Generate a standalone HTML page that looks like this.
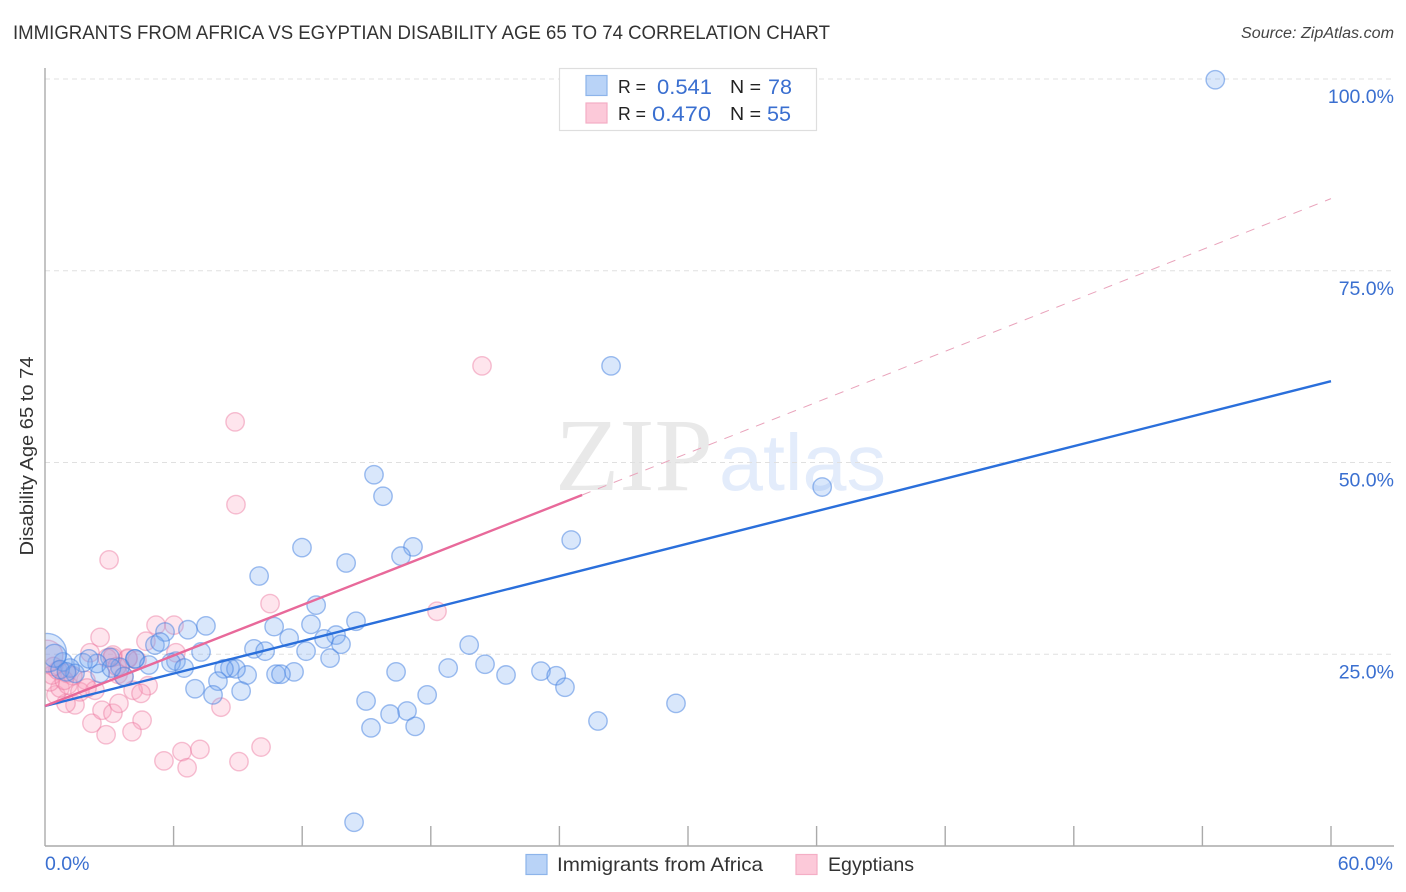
<!DOCTYPE html>
<html lang="en">
<head>
<meta charset="utf-8">
<title>Immigrants from Africa vs Egyptian Disability Age 65 to 74 Correlation Chart</title>
<style>
  html, body { margin: 0; padding: 0; background: #fff; }
  svg { display: block; font-family: "Liberation Sans", sans-serif; }
</style>
</head>
<body>
<svg id="chart" xmlns="http://www.w3.org/2000/svg" width="1406" height="892" viewBox="0 0 1406 892">
  <text x="13" y="39" font-size="19" fill="#333333" textLength="817" lengthAdjust="spacingAndGlyphs">IMMIGRANTS FROM AFRICA VS EGYPTIAN DISABILITY AGE 65 TO 74 CORRELATION CHART</text>
  <text x="1394" y="38" font-size="15.5" font-style="italic" fill="#444" text-anchor="end" textLength="153" lengthAdjust="spacingAndGlyphs">Source: ZipAtlas.com</text>

  <g>
    <text x="555" y="490" font-family="'Liberation Serif', serif" font-size="104" fill="#e9e9e9" textLength="158" lengthAdjust="spacingAndGlyphs">ZIP</text>
    <text x="719" y="490" font-size="80" fill="#e3ecfb" textLength="167" lengthAdjust="spacingAndGlyphs">atlas</text>
  </g>

  <g id="grid"></g>
  <g id="pink-points"></g>
  <g id="blue-points"></g>
  <rect x="0" y="610" width="45.5" height="90" fill="#ffffff"></rect>
  <g id="axes"></g>
  <g id="trend-lines"></g>
  <g id="tick-labels"></g>

  <text transform="translate(33 456) rotate(-90)" font-size="18" fill="#333" text-anchor="middle" textLength="199" lengthAdjust="spacingAndGlyphs">Disability Age 65 to 74</text>

  <g>
    <rect x="559.5" y="68.5" width="257" height="62" fill="#fff" stroke="#dedede" stroke-width="1.2"></rect>
    <rect x="586" y="75.5" width="21" height="20" fill="#b9d3f7" stroke="#8db4ea" stroke-width="1.2"></rect>
    <rect x="586" y="103" width="21" height="20" fill="#fcc9d9" stroke="#f4aec5" stroke-width="1.2"></rect>
    <text x="618" y="93" font-size="18" fill="#222" textLength="28" lengthAdjust="spacingAndGlyphs">R =</text>
    <text x="657" y="94" font-size="21" fill="#3a6fd0" textLength="55" lengthAdjust="spacingAndGlyphs">0.541</text>
    <text x="730" y="93" font-size="18" fill="#222" textLength="31" lengthAdjust="spacingAndGlyphs">N =</text>
    <text x="768" y="94" font-size="21" fill="#3a6fd0" textLength="24" lengthAdjust="spacingAndGlyphs">78</text>
    <text x="618" y="120" font-size="18" fill="#222" textLength="28" lengthAdjust="spacingAndGlyphs">R =</text>
    <text x="652" y="121" font-size="21" fill="#3a6fd0" textLength="59" lengthAdjust="spacingAndGlyphs">0.470</text>
    <text x="730" y="120" font-size="18" fill="#222" textLength="31" lengthAdjust="spacingAndGlyphs">N =</text>
    <text x="767" y="121" font-size="21" fill="#3a6fd0" textLength="24" lengthAdjust="spacingAndGlyphs">55</text>
  </g>

  <g>
    <rect x="526" y="854.5" width="21" height="20" fill="#b9d3f7" stroke="#8db4ea" stroke-width="1.2"></rect>
    <text x="557" y="871" font-size="19.5" fill="#333" textLength="206" lengthAdjust="spacingAndGlyphs">Immigrants from Africa</text>
    <rect x="796" y="854.5" width="21" height="20" fill="#fcc9d9" stroke="#f4aec5" stroke-width="1.2"></rect>
    <text x="828" y="871" font-size="19.5" fill="#333" textLength="86" lengthAdjust="spacingAndGlyphs">Egyptians</text>
  </g>
</svg>
<script>
// Data values in percent
const blueX = [54.6,26.41,36.26,15.35,15.77,24.55,11.99,17.17,16.61,14.05,9.99,12.65,14.51,7.51,6.67,5.6,10.69,12.41,11.39,13.58,13.02,13.81,5.13,5.37,19.79,9.75,10.27,12.18,7.28,13.3,20.53,18.81,23.14,23.85,16.38,21.51,11.62,10.78,11.01,9.43,8.63,8.91,8.35,8.07,7.0,9.15,7.84,24.26,17.83,14.98,29.44,16.89,16.1,25.8,17.27,15.21,14.42,6.11,5.88,6.49,4.2,4.2,4.85,3.69,3.5,3.03,2.57,2.43,1.77,2.05,1.17,0.84,1.4,0.1,0.45,0.7,1.0,3.1];
const blueY = [99.9,62.6,46.8,48.4,45.6,39.9,38.9,39.0,37.8,36.9,35.2,31.4,29.3,28.7,28.2,27.9,28.6,28.9,27.1,27.5,27.0,26.3,26.2,26.6,26.2,25.7,25.4,25.4,25.3,24.5,23.7,23.2,22.8,22.2,22.7,22.3,22.7,22.4,22.4,22.3,23.2,23.1,23.1,21.5,20.5,20.2,19.7,20.7,19.7,18.9,18.6,17.6,17.2,16.3,15.6,15.4,3.1,24.1,23.9,23.2,24.4,24.4,23.6,22.1,23.3,24.6,22.5,23.8,23.9,24.4,23.2,24.0,22.5,25.2,24.8,23.0,22.7,23.2];
const blueWeight = [1,1,1,1,1,1,1,1,1,1,1,1,1,1,1,1,1,1,1,1,1,1,1,1,1,1,1,1,1,1,1,1,1,1,1,1,1,1,1,1,1,1,1,1,1,1,1,1,1,1,1,1,1,1,1,1,1,1,1,1,1,1,1,1,1,1,1,1,1,1,1,1,1,2.1,1.25,1,1,1];
const pinkX = [20.39,8.87,8.91,2.99,10.5,18.29,5.18,6.02,4.71,2.57,6.11,2.1,3.17,3.87,4.29,3.41,4.81,4.11,4.48,1.91,2.33,8.21,10.08,9.05,7.23,6.39,6.63,5.55,4.53,4.06,2.85,2.19,2.66,3.17,3.45,1.4,0.98,0.51,0.7,1.07,1.63,1.96,0.23,0.33,0.6,1.03,3.87,3.15,2.9,3.67,3.36,0.1,1.3,0.4,0.9];
const pinkY = [62.6,55.3,44.5,37.3,31.6,30.6,28.8,28.8,26.7,27.2,25.2,25.2,24.9,24.4,24.2,22.4,20.9,20.3,19.9,21.6,20.3,18.1,12.9,11.0,12.6,12.3,10.2,11.1,16.4,14.9,14.5,16.0,17.7,17.3,18.6,18.4,18.6,19.7,20.6,21.0,20.1,20.6,21.4,22.3,22.9,22.5,24.5,24.6,24.5,22.1,23.4,24.8,22.2,23.4,21.6];
const pinkWeight = [1,1,1,1,1,1,1,1,1,1,1,1,1,1,1,1,1,1,1,1,1,1,1,1,1,1,1,1,1,1,1,1,1,1,1,1,1,1,1,1,1,1,1,1,1,1,1,1,1,1,1,1.7,1,1,1];
const blueTrendX = [0,60];
const blueTrendY = [18.25,60.6];
const pinkSolidX = [0,25.06];
const pinkSolidY = [18.25,45.76];
const pinkDashX = [25.06,60];
const pinkDashY = [45.76,84.4];
const yTickValues = [25,50,75,100];
const yTickLabels = ['25.0%','50.0%','75.0%','100.0%'];
const xTickValues = [0,6,12,18,24,30,36,42,48,54,60];
const xEndValues = [0,60];
const xEndLabels = ['0.0%','60.0%'];

const SVG_NS = 'http://www.w3.org/2000/svg';
const xScale = v => 45 + v * (1286 / 60);
const yScale = v => 846 - v * 7.67;
const rScale = w => 9.2 * w;

function make(tag, attrs, parent) {
  const el = document.createElementNS(SVG_NS, tag);
  for (const k in attrs) el.setAttribute(k, attrs[k]);
  parent.appendChild(el);
  return el;
}

const grid = document.getElementById('grid');
yTickValues.forEach(v => {
  const line = make('line', {x1: 45, x2: 1394, y1: yScale(v), y2: yScale(v), stroke: '#e0e0e0', 'stroke-width': 1, 'stroke-dasharray': '5 4'}, grid);
  
  
});

const axes = document.getElementById('axes');
const yAxisLine = make('line', {x1: 45, x2: 45, y1: 68, y2: 846, stroke: '#aaaaaa', 'stroke-width': 1.4}, axes);


const xAxisLine = make('line', {x1: 45, x2: 1394, y1: 846, y2: 846, stroke: '#aaaaaa', 'stroke-width': 1.4}, axes);


xTickValues.slice(1).forEach(v => {
  const tick = make('line', {x1: xScale(v), x2: xScale(v), y1: 826, y2: 846, stroke: '#aaaaaa', 'stroke-width': 1.4}, axes);
  
  
});

function drawPoints(groupId, xs, ys, ws, fill, stroke, name) {
  const g = document.getElementById(groupId);
  xs.forEach((x, i) => {
    const c = make('circle', {cx: xScale(x), cy: yScale(ys[i]), r: rScale(ws[i]), fill: fill, stroke: stroke, 'stroke-width': 1.4}, g);
    
    
  });
}
drawPoints('pink-points', pinkX, pinkY, pinkWeight, 'rgba(250,160,190,0.28)', 'rgba(235,120,160,0.46)', 'egyptians-point');
drawPoints('blue-points', blueX, blueY, blueWeight, 'rgba(120,170,240,0.28)', 'rgba(70,130,225,0.52)', 'immigrants-from-africa-point');

const trends = document.getElementById('trend-lines');
const pinkDash = make('line', {x1: xScale(pinkDashX[0]), y1: yScale(pinkDashY[0]), x2: xScale(pinkDashX[1]), y2: yScale(pinkDashY[1]), stroke: '#e9a3bb', 'stroke-width': 1, 'stroke-dasharray': '9 8'}, trends);


const blueTrend = make('line', {x1: xScale(blueTrendX[0]), y1: yScale(blueTrendY[0]), x2: xScale(blueTrendX[1]), y2: yScale(blueTrendY[1]), stroke: '#2a6fdb', 'stroke-width': 2.4}, trends);


const pinkTrend = make('line', {x1: xScale(pinkSolidX[0]), y1: yScale(pinkSolidY[0]), x2: xScale(pinkSolidX[1]), y2: yScale(pinkSolidY[1]), stroke: '#e8699a', 'stroke-width': 2.4}, trends);



const labels = document.getElementById('tick-labels');
yTickValues.forEach((v, i) => {
  const t = make('text', {x: 1394, y: yScale(v) + 24, 'font-size': 19.5, fill: '#3a6fd0', 'text-anchor': 'end'}, labels);
  
  
  t.textContent = yTickLabels[i];
});
xEndValues.forEach((v, i) => {
  const t = make('text', {x: i === 0 ? xScale(v) : xScale(v) + 62, y: 870, 'font-size': 19.5, fill: '#3a6fd0', 'text-anchor': i === 0 ? 'start' : 'end'}, labels);
  
  
  t.textContent = xEndLabels[i];
});
</script>
</body>
</html>
